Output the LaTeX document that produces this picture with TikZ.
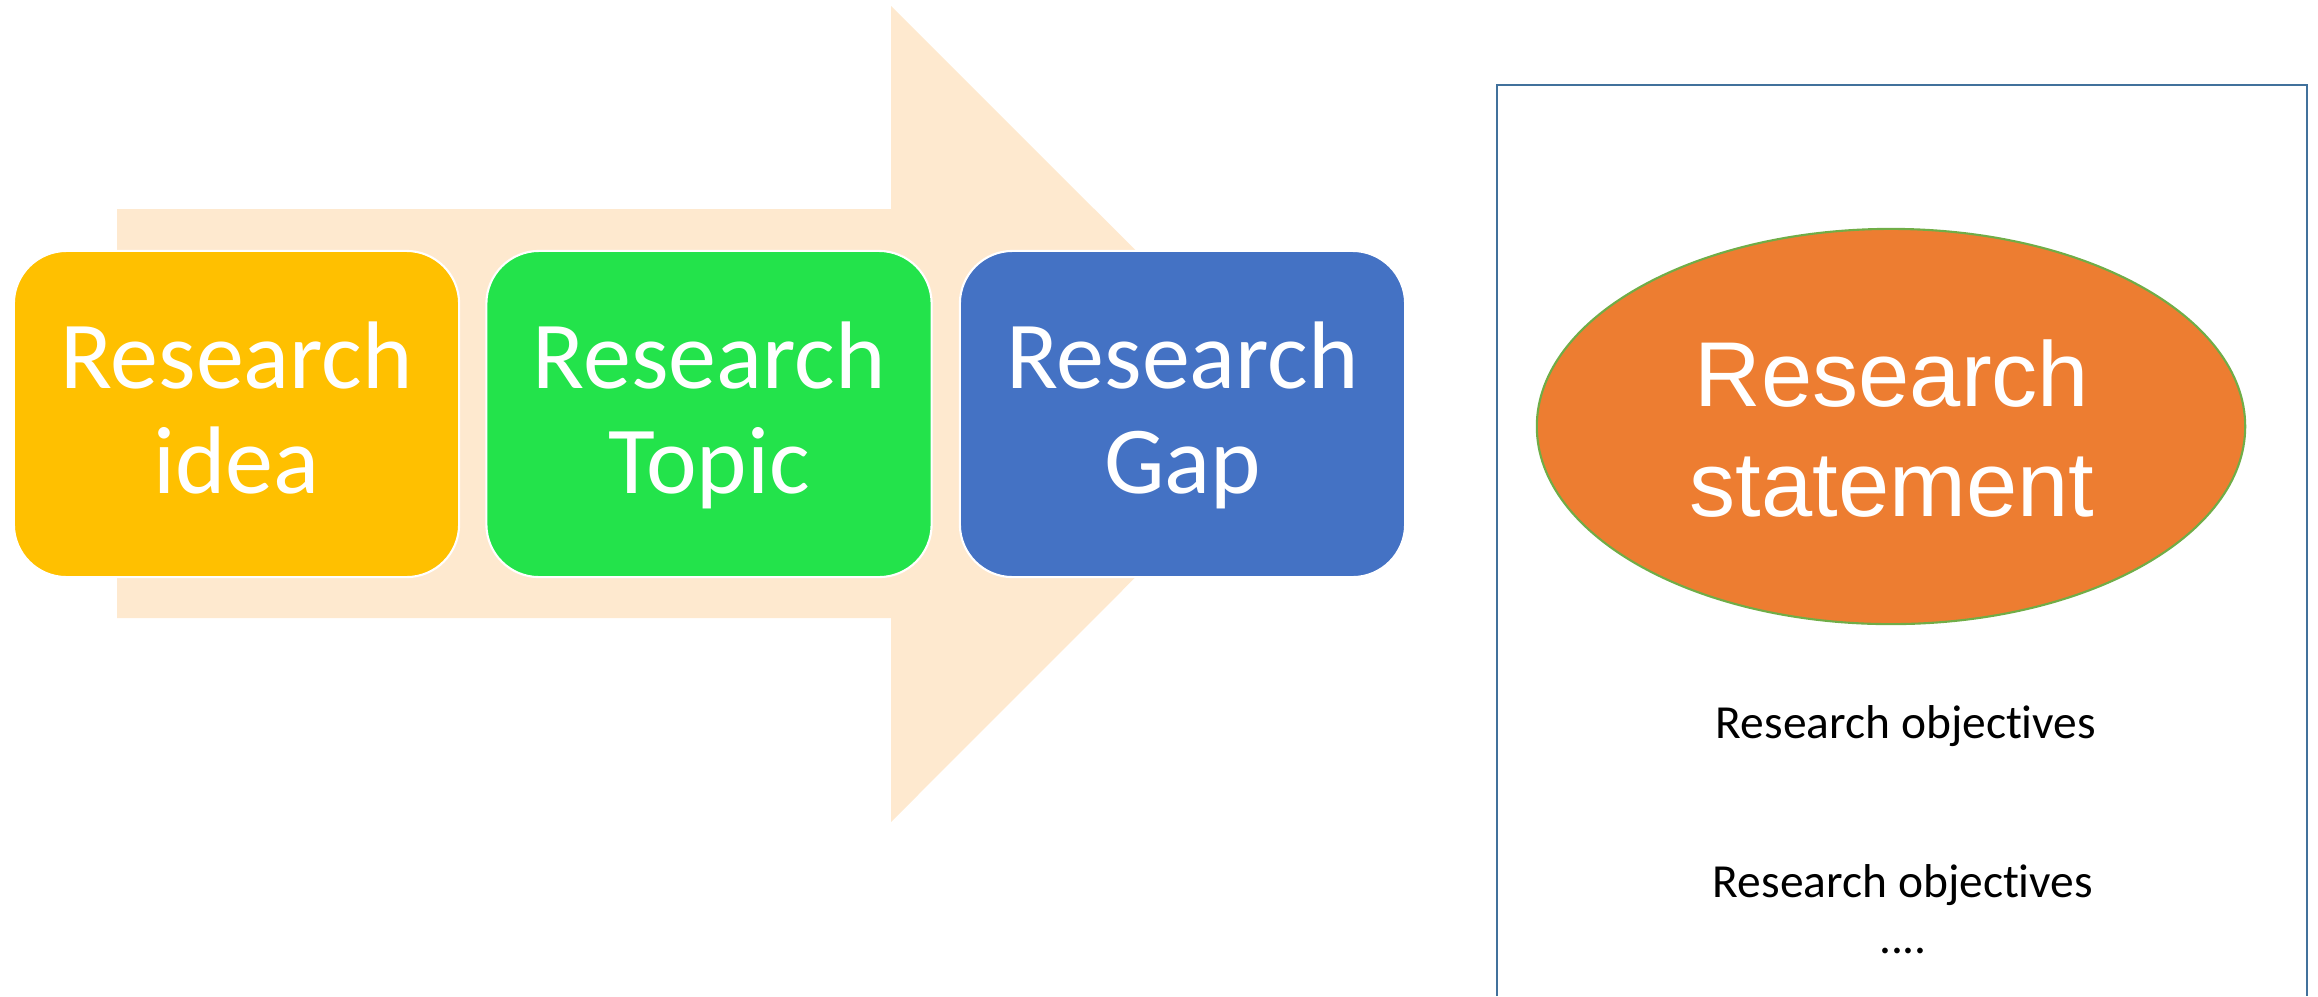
\documentclass[tikz,border=0pt]{standalone}
\usepackage{fontspec}
\newfontfamily\carlito[Ligatures=NoCommon]{Carlito}
\newfontfamily\libsans{Liberation Sans}
\usetikzlibrary{shapes.geometric}
\definecolor{arrowfill}{HTML}{FEE9CF}
\definecolor{ideayellow}{HTML}{FFC000}
\definecolor{topicgreen}{HTML}{23E34B}
\definecolor{gapblue}{HTML}{4472C4}
\definecolor{stmtorange}{HTML}{ED7D31}
\definecolor{stmtborder}{HTML}{70AD47}
\definecolor{framecol}{HTML}{41719C}
\tikzset{
  stagebox/.style={rectangle, rounded corners=15pt, draw=white, line width=0.6pt,
    minimum width=4.45cm, minimum height=3.26cm, inner sep=0pt},
  stagetext/.style={anchor=base, align=center, text=white, inner sep=0pt,
    font=\carlito\fontsize{27.3}{29.6}\selectfont},
  stmttext/.style={anchor=base, align=center, text=white, inner sep=0pt,
    font=\libsans\fontsize{26.2}{31.2}\selectfont},
  objtext/.style={anchor=base, align=center, text=black, inner sep=0pt,
    font=\carlito\fontsize{13.5}{15.9}\selectfont}
}
\begin{document}
\begin{tikzpicture}[x=0.01cm,y=-0.01cm]
\useasboundingbox (0,0) rectangle (2318,996);
% big background arrow
\fill[arrowfill] (117,209) -- (891,209) -- (891,6) -- (1299,413.5) -- (891,822) -- (891,618) -- (117,618) -- cycle;
% stage boxes
\node[stagebox, fill=ideayellow] (idea) at (236.5,414) {};
\node[stagebox, fill=topicgreen] (topic) at (709,414) {};
\node[stagebox, fill=gapblue] (gap) at (1182.5,414) {};
\node[stagetext] (ideatext) at (236.5,493) {Research\\idea};
\node[stagetext] (topictext) at (709,493) {Research\\Topic};
\node[stagetext] (gaptext) at (1182.5,493) {Research\\Gap};
% frame on the right
\draw[framecol, line width=0.7pt] (1497,996) -- (1497,85) -- (2307,85) -- (2307,996);
% statement ellipse
\node[ellipse, fill=stmtorange, draw=stmtborder, line width=0.6pt,
  minimum width=7.08cm, minimum height=3.95cm, inner sep=0pt] (stmt) at (1891,426.5) {};
\node[stmttext] (stmttxt) at (1892,516) {Research\\statement};
% objectives
\node[objtext] (obj1) at (1906,738) {Research objectives};
\node[objtext] (obj2) at (1903,953) {Research objectives\\....};
\end{tikzpicture}
\end{document}
